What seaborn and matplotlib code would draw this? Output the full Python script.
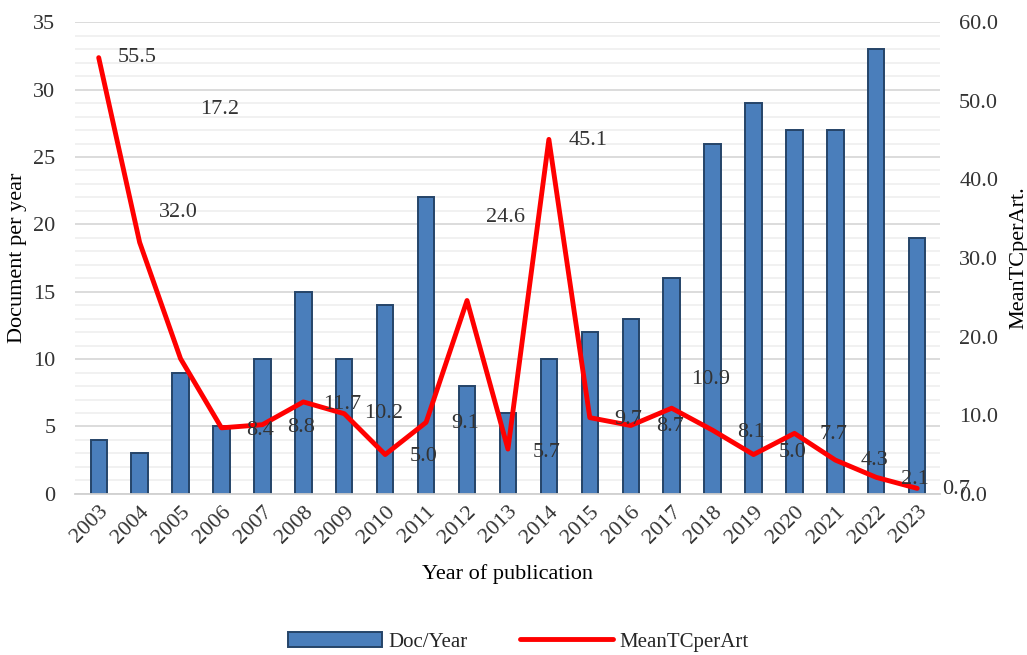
import numpy as np
import pandas as pd
import seaborn as sns
import matplotlib.pyplot as plt
from matplotlib.ticker import MultipleLocator, FormatStrFormatter

years = [str(y) for y in range(2003, 2024)]
doc_per_year = [4, 3, 9, 5, 10, 15, 10, 14, 22, 8, 6, 10, 12, 13, 16, 26, 29, 27, 27, 33, 19]
mean_tc = [55.5, 32.0, 17.2, 8.4, 8.8, 11.7, 10.2, 5.0, 9.1, 24.6, 5.7,
           45.1, 9.7, 8.7, 10.9, 8.1, 5.0, 7.7, 4.3, 2.1, 0.7]
# where Excel put the data labels (right-axis units)
label_y = [55.5, 35.8, 48.9, 8.1, 8.5, 11.4, 10.2, 4.8, 8.9, 35.1, 5.3,
           44.9, 9.5, 8.6, 14.5, 7.8, 5.3, 7.6, 4.3, 1.8, 0.5]

df = pd.DataFrame({"Year": years, "Doc/Year": doc_per_year, "MeanTCperArt": mean_tc})

sns.set_style("white")
plt.rcParams["font.family"] = ["Liberation Serif", "DejaVu Serif"]

fig = plt.figure(figsize=(10.27, 6.55), dpi=100)
ax = fig.add_axes([0.073, 0.246, 0.842, 0.72])

sns.barplot(data=df, x="Year", y="Doc/Year", ax=ax, color="#4a7ebb",
            width=0.4, edgecolor="#254468", linewidth=1.4, saturation=1,
            label="Doc/Year", legend=False)
ax.set_ylim(0, 35)
ax.set_xlim(-0.58, 20.55)
ax.yaxis.set_major_locator(MultipleLocator(5))
ax.yaxis.set_minor_locator(MultipleLocator(1))
ax.grid(axis="y", which="major", color="#d9d9d9", lw=1.3)
ax.grid(axis="y", which="minor", color="#f0f0f0", lw=1.3)
ax.set_axisbelow(True)
for s in ["top", "right", "left"]:
    ax.spines[s].set_visible(False)
ax.spines["bottom"].set_color("#d0d0d0")
ax.spines["bottom"].set_linewidth(1.3)
ax.tick_params(axis="both", which="both", length=0, labelsize=16, colors="#333333")
ax.tick_params(axis="y", pad=14)
ax.tick_params(axis="x", pad=6)
plt.setp(ax.get_xticklabels(), rotation=45, ha="right", rotation_mode="anchor")
ax.set_xlabel("Year of publication", fontsize=16, color="black", labelpad=12)
ax.set_ylabel("Document per year", fontsize=16, color="black")
ax.yaxis.label.set_va("center")
ax.yaxis.set_label_coords(-0.066, 0.5)

ax2 = ax.twinx()
sns.lineplot(x=np.arange(len(years)), y=mean_tc, ax=ax2, color="#ff0000",
             lw=3.5, label="MeanTCperArt", legend=False)
ax2.set_ylim(0, 60)
ax2.yaxis.set_major_locator(MultipleLocator(10))
ax2.yaxis.set_major_formatter(FormatStrFormatter("%.1f"))
for s in ["top", "right", "left", "bottom"]:
    ax2.spines[s].set_visible(False)
ax2.tick_params(axis="y", length=0, labelsize=16, colors="#333333", pad=14)
ax2.set_ylabel("MeanTCperArt.", fontsize=16, color="black")
ax2.yaxis.label.set_va("center")
ax2.yaxis.set_label_coords(1.091, 0.5)

for i, (v, ly) in enumerate(zip(mean_tc, label_y)):
    ax2.text(i + 0.95, ly, f"{v:.1f}", fontsize=16, color="#333333",
             ha="center", va="center")

h1, l1 = ax.get_legend_handles_labels()
h2, l2 = ax2.get_legend_handles_labels()
fig.legend(h1 + h2, l1 + l2, loc="center", bbox_to_anchor=(0.505, 0.02),
           ncol=2, frameon=False, fontsize=15, handlelength=4.5,
           columnspacing=2.5, handletextpad=0.3)

plt.savefig("out.png", dpi=100)
